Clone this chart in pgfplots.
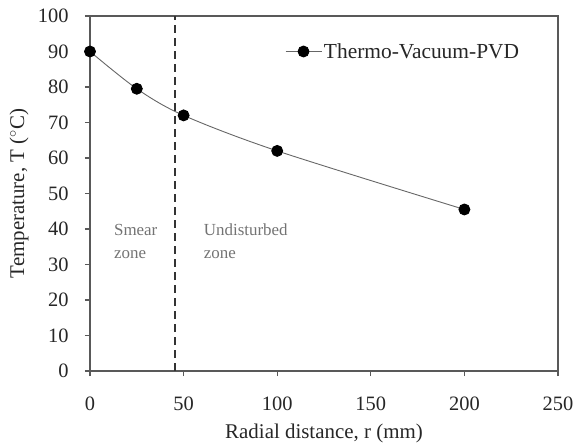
\documentclass[border=0pt]{standalone}
\usepackage{pgfplots}
\pgfplotsset{compat=1.18}
\usepackage{fontspec}
\setmainfont{Liberation Serif}
\begin{document}
\begin{tikzpicture}[x=1bp,y=1bp]
\path[use as bounding box] (-90bp,-75bp) rectangle (485bp,371bp);
\begin{axis}[
  scale only axis,
  width=468bp, height=355bp,
  xmin=0, xmax=250, ymin=0, ymax=100,
  xtick={0,50,...,250}, ytick={0,10,...,100},
  tick align=outside, tick pos=left,
  major tick length=5bp,
  axis line style={draw=black!65, line width=1.3pt},
  tick style={draw=black!65, line width=1.2pt},
  font=\fontsize{21}{23}\selectfont,
  tick label style={font=\fontsize{20.5}{23}\selectfont, text=black!85},
  /pgf/number format/assume math mode=true,
  xticklabel style={yshift=-17bp},
  yticklabel style={xshift=-13bp},
  xlabel={Radial distance, r (mm)},
  ylabel={Temperature, T ($^{\circ}$C)},
  label style={text=black!85, font=\fontsize{21}{23}\selectfont},
  xlabel style={at={(axis description cs:0.5,0)}, anchor=center, yshift=-62bp},
  ylabel style={at={(axis description cs:0,0.5)}, anchor=center, yshift=71bp},
  legend style={draw=none, fill=none, at={(0.41,0.9)}, anchor=west, font=\fontsize{21.5}{23}\selectfont, text=black!85},
  legend image code/.code={\draw[mark repeat=2,mark phase=2] plot coordinates {(0bp,0bp)(18bp,0bp)(36bp,0bp)};},
  clip=false,
]
\addplot[black!60, line width=0.9pt, smooth, tension=0.5, mark=*, mark size=5.5pt, mark options={fill=black, draw=black}]
  coordinates {(0,90) (25,79.5) (50,72) (100,62) (200,45.5)};
\addlegendentry{Thermo-Vacuum-PVD}
\addplot[black!80, line width=2.5pt, dash pattern=on 8bp off 5bp, forget plot] coordinates {(45.4,0) (45.4,100)};
\node[anchor=west, align=left, text=black!55, font=\fontsize{17}{23}\selectfont] at (axis cs:11,36.5) {Smear\\zone};
\node[anchor=west, align=left, text=black!55, font=\fontsize{17}{23}\selectfont] at (axis cs:59,36.5) {Undisturbed\\zone};
\end{axis}
\end{tikzpicture}
\end{document}
